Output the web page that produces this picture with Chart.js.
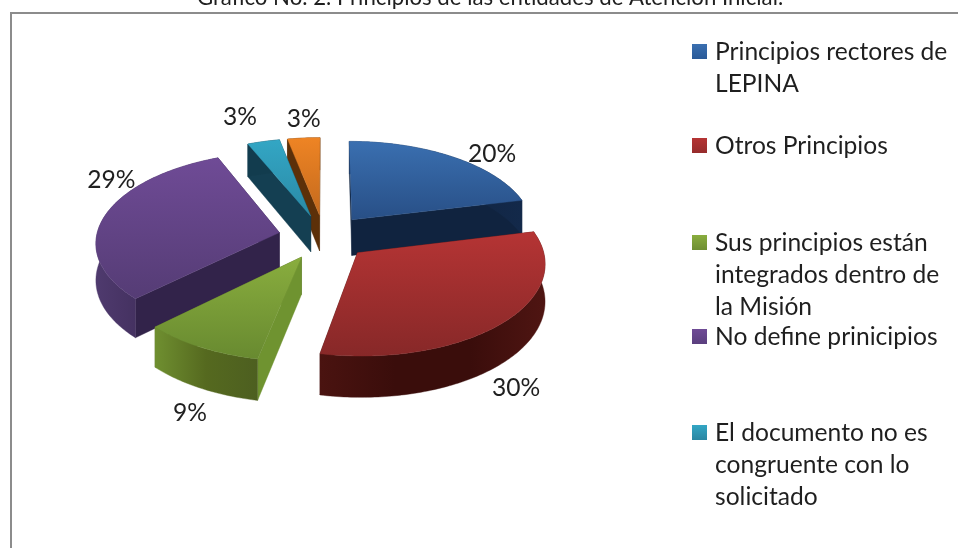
<!DOCTYPE html>
<html><head><meta charset="utf-8">
<style>html,body{margin:0;padding:0;background:#fff;overflow:hidden}canvas{display:block;filter:blur(0.45px)}</style>
<script src="https://cdn.jsdelivr.net/npm/chart.js@4"></script>
</head><body><canvas id="c" width="958" height="548"></canvas>
<script>
const chartTitle = "Gráfico No. 2. Principios de las entidades de Atención Inicial.";
const categories = ["Principios rectores de LEPINA","Otros Principios","Sus principios están integrados dentro de la Misión","No define prinicipios","El documento no es congruente con lo solicitado",""];
const values = [20,30,9,29,3,3];
const legendLines = [["Principios rectores de","LEPINA"],["Otros Principios"],["Sus principios están","integrados dentro de","la Misión"],["No define prinicipios"],["El documento no es","congruente con lo","solicitado"]];

const legendTop = [52,146,243,337,433];
const labelNudge = [[39,-3],[12,66],[-10.5,66],[6,-35],[-23.5,-24],[0,-19]];
const topColors = [["#3a6fb0","#284f86"],["#b53434","#872828"],["#89ad3e","#688a30"],["#6f4b96","#553c75"],["#33a6c4","#2a8aa6"],["#ee8424","#c46a1e"]];
const wallColors = [
 ["#1a3a66","#10233f","#13294a"],
 ["#4a1310","#3a0d0b","#3a0d0b","#4f1512"],
 ["#6f8f30","#55691f","#4d5f20"],
 ["#4f3a6e","#3f2d5a","#3c2a55"],
 ["#123c4e","#123c4e"],
 ["#5c3009","#5c3009"]];
const endWall = ["#10233f","#3a0d0b","#4e6120","#32234a","#0f3a48","#4e2a08"];
const startWall = ["#10233f","#3a0d0b","#6f9330","#32234a","#143f52","#5c3009"];
const swatch = [["#3a6fb0","#2a5a98"],["#b53434","#962c2c"],["#89ad3e","#6f8f33"],["#6f4b96","#5a3f7e"],["#33a6c4","#2a86a2"]];
const TILT = 0.489, PERSP = 0.1, DEPTH = 36.5;
const FONT = 'Lato, "Open Sans", sans-serif';

function projector(arc){
  const R = arc.outerRadius, cx = arc.x, cy = arc.y;
  return (px,py,low)=>{
    const ny = py/R, s = 1/(1-PERSP*ny);
    return [cx+px*s, cy+R*TILT*ny*s+(low?DEPTH*s:0)];
  };
}
function poly(ctx,pts,fill){
  ctx.beginPath();
  pts.forEach((p,i)=>i?ctx.lineTo(p[0],p[1]):ctx.moveTo(p[0],p[1]));
  ctx.closePath();ctx.fillStyle=fill;ctx.fill();ctx.strokeStyle=fill;ctx.lineWidth=0.4;ctx.stroke();
}
function drawSlice(ctx,arc,i){
  const proj = projector(arc), R = arc.outerRadius, a0=arc.startAngle, a1=arc.endAngle, mid=(a0+a1)/2, off=arc.options.offset;
  const ox=Math.cos(mid)*off, oy=Math.sin(mid)*off, n=Math.max(6,Math.ceil((a1-a0)*60));
  const rim=[];
  for(let k=0;k<=n;k++){const a=a0+(a1-a0)*k/n;rim.push([ox+R*Math.cos(a),oy+R*Math.sin(a)]);}
  const up=rim.map(p=>proj(p[0],p[1],false)), low=rim.map(p=>proj(p[0],p[1],true));
  const ap=proj(ox,oy,false), apl=proj(ox,oy,true);
  const sw=[[ap,up[0],low[0],apl],startWall[i]], ew=[[ap,up[n],low[n],apl],endWall[i]];
  (up[0][1]<up[n][1]?[sw,ew]:[ew,sw]).forEach(w=>poly(ctx,w[0],w[1]));
  const xs=up.map(p=>p[0]), x0=Math.min(...xs), x1=Math.max(...xs);
  const g=ctx.createLinearGradient(x0,0,x1,0);
  wallColors[i].forEach((c,k,l)=>g.addColorStop(k/(l.length-1),c));
  poly(ctx,up.concat(low.slice().reverse()),g);
  const all=up.concat([ap]), ys=all.map(p=>p[1]);
  const tg=ctx.createLinearGradient(0,Math.min(...ys),0,Math.max(...ys));
  tg.addColorStop(0,topColors[i][0]);tg.addColorStop(1,topColors[i][1]);
  poly(ctx,[ap].concat(up),tg);
}
const pie3d = {
  id:'pie3d',
  beforeDraw(chart){
    const ctx=chart.ctx;ctx.save();ctx.fillStyle='#fff';ctx.fillRect(0,0,958,548);
    ctx.fillStyle='#8c8c8c';ctx.fillRect(10,12,948,2);ctx.fillRect(10,12,2,536);ctx.restore();
  },
  beforeDatasetDraw(chart){
    const ctx=chart.ctx, arcs=chart.getDatasetMeta(0).data;
    const order=arcs.map((a,i)=>i).sort((p,q)=>{
      const m=a=>Math.sin((a.startAngle+a.endAngle)/2);return m(arcs[p])-m(arcs[q]);});
    ctx.save();order.forEach(i=>drawSlice(ctx,arcs[i],i));ctx.restore();
    return false;
  },
  afterDraw(chart){
    const ctx=chart.ctx, arcs=chart.getDatasetMeta(0).data;
    ctx.save();ctx.fillStyle='#1f1f1f';
    ctx.textBaseline='alphabetic';ctx.textAlign='center';ctx.font='22.2px '+FONT;
    ctx.fillText(chartTitle,490,5);
    ctx.textBaseline='middle';ctx.font='24.6px '+FONT;
    arcs.forEach((arc,i)=>{
      const mid=(arc.startAngle+arc.endAngle)/2,R=arc.outerRadius+arc.options.offset;
      const p=projector(arc)(R*Math.cos(mid),R*Math.sin(mid),false);
      ctx.fillText(values[i]+'%',p[0]+labelNudge[i][0],p[1]+labelNudge[i][1]);
    });
    ctx.textAlign='left';
    legendLines.forEach((lines,i)=>{
      const g=ctx.createLinearGradient(0,legendTop[i]-8,0,legendTop[i]+7);
      g.addColorStop(0,swatch[i][0]);g.addColorStop(1,swatch[i][1]);
      ctx.fillStyle=g;ctx.fillRect(692,legendTop[i]-8,15,15);
      ctx.fillStyle='#1f1f1f';
      lines.forEach((t,k)=>ctx.fillText(t,715,legendTop[i]+k*32));
    });
    ctx.restore();
  }
};
new Chart(document.getElementById('c'),{
  type:'pie',
  data:{labels:categories,datasets:[{data:values,radius:183,offset:45.75,borderWidth:0,backgroundColor:swatch.map(s=>s[0]).concat(["#ee8424"])}]},
  options:{responsive:false,animation:false,
    layout:{padding:{left:0,top:0,right:310,bottom:74}},
    plugins:{legend:{display:false},title:{display:false},tooltip:{enabled:false}}},
  plugins:[pie3d]
});
</script></body></html>
